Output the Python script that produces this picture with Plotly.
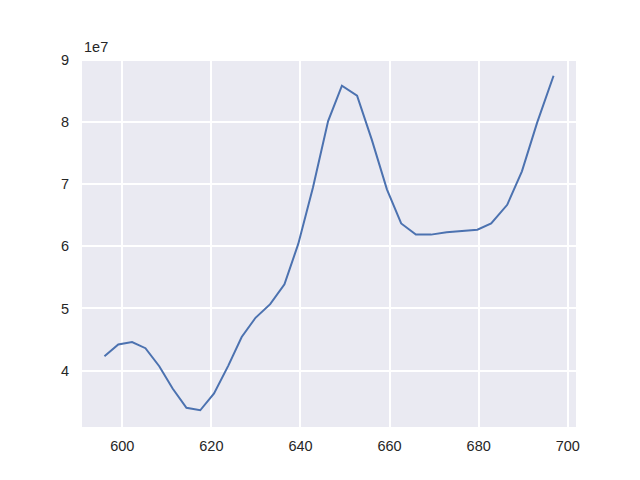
import plotly.graph_objects as go

wavelength = [596.0, 599.1, 602.2, 605.2, 608.3, 611.3, 614.4, 617.5, 620.6, 623.8,
              626.8, 629.9, 633.2, 636.4, 639.5, 642.8, 646.2, 649.3, 652.7, 656.0,
              659.4, 662.6, 665.9, 669.3, 672.8, 676.4, 679.7, 682.8, 686.4, 689.7,
              693.1, 696.8]
intensity_1e7 = [4.23, 4.42, 4.46, 4.36, 4.07, 3.71, 3.40, 3.36, 3.63, 4.08,
                 4.54, 4.85, 5.07, 5.39, 6.04, 6.95, 8.02, 8.59, 8.43, 7.72,
                 6.92, 6.37, 6.19, 6.19, 6.23, 6.25, 6.27, 6.37, 6.67, 7.21,
                 7.99, 8.75]
intensity = [v * 1e7 for v in intensity_1e7]

x_ticks = [600, 620, 640, 660, 680, 700]
y_ticks = [4, 5, 6, 7, 8, 9]
y_tick_labels = ["4", "5", "6", "7", "8", "9"]

xmin, xmax = min(wavelength), max(wavelength)
xm = 0.05 * (xmax - xmin)
ymin, ymax = min(intensity), max(intensity)
ym = 0.05 * (ymax - ymin)

font = dict(family="Liberation Sans, Arial, DejaVu Sans, sans-serif", size=14.5, color="#262626")

fig = go.Figure()
fig.add_trace(go.Scatter(x=wavelength, y=intensity, mode="lines",
                         line=dict(color="#4C72B0", width=2), showlegend=False))

fig.update_layout(
    width=640, height=480,
    margin=dict(l=74, r=72, t=51, b=61, autoexpand=False),
    paper_bgcolor="white", plot_bgcolor="#EAEAF2",
    font=font,
    xaxis=dict(range=[xmin - xm, xmax + xm], tickvals=x_ticks,
               showgrid=True, gridcolor="white", gridwidth=1.5, zeroline=False,
               showline=False, ticks="outside", ticklen=6, tickcolor="rgba(0,0,0,0)"),
    yaxis=dict(range=[ymin - ym, ymax + ym], tickvals=[v * 1e7 for v in y_ticks],
               ticktext=y_tick_labels,
               showgrid=True, gridcolor="white", gridwidth=1.5, zeroline=False,
               showline=False, ticks="outside", ticklen=9, tickcolor="rgba(0,0,0,0)"),
    annotations=[dict(text="1e7", xref="paper", yref="paper", x=0, y=1,
                      xanchor="left", yanchor="bottom", yshift=2, showarrow=False,
                      font=font)],
)

fig.write_html("out.html")
